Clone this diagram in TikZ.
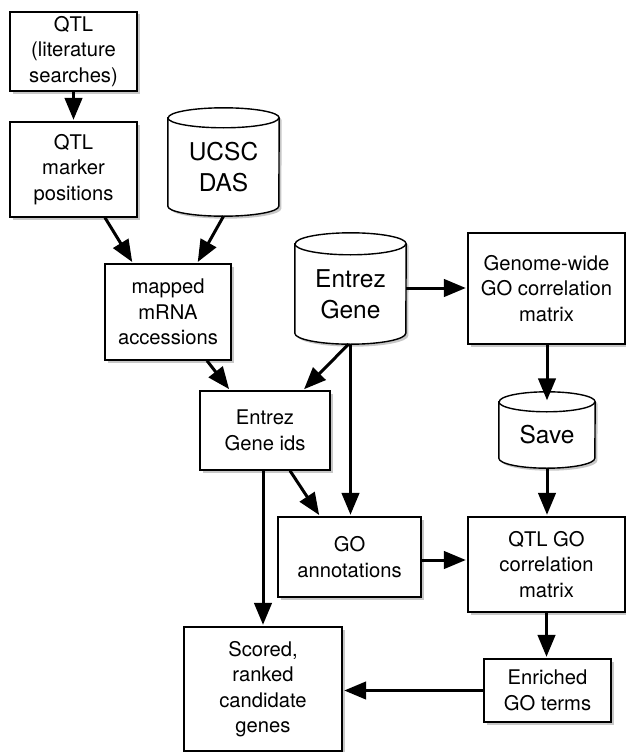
\documentclass[tikz,border=0pt]{standalone}
\usepackage{fontspec}
\setmainfont{TeX Gyre Heros}
\usetikzlibrary{arrows.meta,calc,shadows,backgrounds}
\tikzset{
  box/.style={draw, line width=1.4pt, fill=white, inner sep=0pt, align=center,
    font=\fontsize{20.2}{25.5}\selectfont,
    drop shadow={shadow xshift=2.5pt,shadow yshift=-2.5pt,fill=black!40,opacity=.55}},
  dbnode/.style={inner sep=0pt, align=center, font=\fontsize{24.5}{31}\selectfont},
  cylline/.style={line width=1.4pt, fill=white},
  cylshadow/.style={fill=black!40, opacity=.55, transform canvas={shift={(2.5pt,-2.5pt)}}},
  flow/.style={line width=3pt, -{Triangle[length=22pt,width=17.5pt]}, shorten >=1.5pt},
}
\newcommand\dbshape[3]{%
  \path[cylshadow] (#1.north west) -- ($(#1.south west)+(0,-#3)$)
    arc[start angle=180,end angle=360,x radius=#2pt,y radius=#3pt] -- (#1.north east)
    arc[start angle=0,end angle=180,x radius=#2pt,y radius=#3pt] -- cycle;
  \draw[cylline] (#1.north west) -- ($(#1.south west)+(0,-#3)$)
    arc[start angle=180,end angle=360,x radius=#2pt,y radius=#3pt] -- (#1.north east)
    arc[start angle=0,end angle=180,x radius=#2pt,y radius=#3pt] -- cycle;
  \draw[line width=1.4pt] (#1.north west) arc[start angle=180,end angle=360,x radius=#2pt,y radius=#3pt];
}
\begin{document}
\begin{tikzpicture}[x=1pt,y=-1pt]
\useasboundingbox (0,0) rectangle (626,752);
% boxes
\node[box, minimum width=127pt, minimum height=79pt] (lit) at (73.5,51.5) {QTL\\(literature\\searches)};
\node[box, minimum width=127pt, minimum height=95pt] (marker) at (73.5,169.5) {QTL\\marker\\positions};
\node[box, minimum width=126pt, minimum height=96pt] (mapped) at (168,312) {mapped\\mRNA\\accessions};
\node[box, minimum width=157pt, minimum height=111pt] (genome) at (546.5,288.5) {Genome-wide\\GO correlation\\matrix};
\node[box, minimum width=130pt, minimum height=79pt] (ids) at (265,430.5) {Entrez\\Gene ids};
\node[box, minimum width=143pt, minimum height=80pt] (goann) at (349.5,557) {GO\\annotations};
\node[box, minimum width=157pt, minimum height=95pt] (qtlgo) at (546.5,564.5) {QTL GO\\correlation\\matrix};
\node[box, minimum width=127pt, minimum height=63pt] (enriched) at (547.5,690.5) {Enriched\\GO terms};
\node[box, minimum width=158pt, minimum height=124pt] (scored) at (263,689) {Scored,\\ranked\\candidate\\genes};
% databases
\node[dbnode, minimum width=111pt, minimum height=98pt] (ucsc) at (223.5,167) {UCSC\\DAS};
\node[dbnode, minimum width=111pt, minimum height=100pt] (entrez) at (350.5,294) {Entrez\\Gene};
\node[dbnode, minimum width=96pt, minimum height=66pt] (save) at (547,435) {Save};
\begin{scope}[on background layer]
  \dbshape{ucsc}{55.5}{10}
  \dbshape{entrez}{55.5}{11}
  \dbshape{save}{48}{10}
\end{scope}
% connectors
\draw[flow] (lit.south) -- (marker.north);
\draw[flow] ($(marker.south)+(31.5,0)$) -- ($(mapped.north)+(-35,0)$);
\draw[flow] (ucsc.south) -- ($(mapped.north)+(29,0)$);
\draw[flow] ($(mapped.south)+(39,0)$) -- ($(ids.north)+(-35,0)$);
\draw[flow] ($(entrez.south)+(-2,0)$) -- ($(ids.north)+(38,0)$);
\draw[flow] (entrez.south) -- (entrez.south |- goann.north);
\draw[flow] ($(ids.south)+(25,0)$) -- ($(goann.north)+(-29.5,0)$);
\draw[flow] (scored.north |- ids.south) -- (scored.north);
\coordinate (eg) at ($(entrez.east)+(0,-6)$);
\draw[flow] (eg) -- (eg -| genome.west);
\draw[flow] (genome.south) -- (save.north |- genome.south) -- (save.north);
\draw[flow] (save.south) -- (save.south |- qtlgo.north);
\coordinate (gq) at ($(goann.east)+(0,3)$);
\draw[flow] (gq) -- (gq -| qtlgo.west);
\draw[flow] (qtlgo.south) -- (qtlgo.south |- enriched.north);
\draw[flow] (enriched.west) -- (enriched.west -| scored.east);
\end{tikzpicture}
\end{document}
